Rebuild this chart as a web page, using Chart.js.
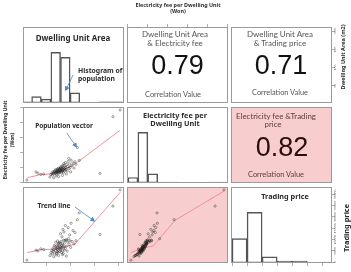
<!DOCTYPE html>
<html>
<head>
<meta charset="utf-8">
<script src="https://cdn.jsdelivr.net/npm/chart.js@4.4.1/dist/chart.umd.min.js"></script>
<style>
body{margin:0;background:#fff;width:351px;height:272px;overflow:hidden;position:relative}
canvas{position:absolute}
.t{position:absolute;white-space:nowrap;line-height:1;transform:translate(-50%,-50%);z-index:2}
.l{position:absolute;white-space:nowrap;line-height:1;transform:translate(0,-50%);z-index:2}
.b{font-family:"Noto Sans",sans-serif;font-weight:bold;color:#2b2b2b}
.c{font-family:Lato,sans-serif;color:#555}
.n{font-family:"Liberation Sans",sans-serif;color:#111}
.r{transform:translate(-50%,-50%) rotate(-90deg)}
</style>
</head>
<body>
<script>
// variables: dwelling unit area (m2), electricity fee (Won), trading price
const area = [204, 189, 162, 115, 119, 10, 29, 39, 33, 45,
  60, 62, 63, 64, 65, 66, 67, 68, 69, 70, 70, 71, 72, 72, 73, 73, 74, 74, 75, 75,
  76, 76, 77, 77, 78, 78, 79, 79, 80, 80, 81, 81, 82, 82, 83, 83, 84, 84, 85, 85,
  86, 86, 87, 87, 88, 88, 89, 90, 90, 91, 92, 93, 94, 95, 96, 98, 99, 100, 102, 104,
  106, 108, 110, 112, 66, 58, 71, 76, 84, 92, 97, 101];
const fee = [4850000, 4400000, 600000, 2330000, 1470000, 150000, 690000, 530000, 600000, 550000,
  520000, 610000, 480000, 700000, 560000, 650000, 720000, 590000, 780000, 640000, 860000, 700000, 540000, 760000, 820000, 660000, 900000, 720000, 600000, 800000,
  950000, 690000, 740000, 880000, 630000, 810000, 920000, 700000, 850000, 1020000, 760000, 970000, 680000, 890000, 1080000, 780000, 930000, 720000, 1150000, 830000,
  980000, 650000, 870000, 1250000, 760000, 940000, 1100000, 820000, 1320000, 990000, 880000, 1180000, 760000, 1050000, 1400000, 920000, 1220000, 1000000, 1480000, 1120000,
  1300000, 950000, 1380000, 1200000, 300000, 350000, 420000, 380000, 460000, 560000, 1600000, 700000];
const price = [32000, 24800, 12250, 18800, 21800, 900, 5300, 5900, 5000, 5600,
  4200, 5100, 3600, 6200, 4800, 5500, 7400, 4100, 6900, 5300, 8800, 6100, 3900, 7200, 5800, 4600, 9400, 6600, 4400, 7700,
  8300, 5200, 6300, 8500, 4700, 7000, 8600, 5600, 6800, 12600, 5900, 9100, 4300, 7500, 11200, 6400, 8000, 5000, 14500, 7300,
  9700, 3800, 6700, 13400, 5400, 8400, 9600, 6000, 16200, 9900, 7100, 9800, 4900, 8900, 15300, 7800, 12100, 9300, 17200, 9200,
  14000, 8100, 13100, 9500, 2400, 2900, 3200, 3000, 3400, 2700, 10400, 6500];

// histograms (bin edges and counts)
const areaBins = [0, 20, 40, 60, 80, 100, 120, 140, 160, 180, 200, 220];
const areaCounts = [1, 5, 3, 40, 36, 8, null, null, 1, 1, 1];
const feeBins = [0, 500000, 1000000, 1500000, 2000000, 2500000, 3000000, 3500000, 4000000, 4500000, 5000000];
const feeCounts = [6, 55, 10, 1, 1, null, null, null, 1, 1];
const priceBins = [0, 5000, 10000, 15000, 20000, 25000, 30000, 35000];
const priceCounts = [24, 50, 6, 2, 2, null, 1];

// smoothed trend lines
const trendAreaX = [11, 37, 65, 86, 110, 204];
const trendAreaFee = [310000, 500000, 580000, 830000, 1220000, 3490000];
const trendAreaPrice = [4260, 5470, 5790, 6500, 8030, 30880];
const trendFeeX = [150000, 610000, 1280000, 2370000, 4850000];
const trendFeePrice = [4260, 5790, 7270, 18470, 31460];

// correlations
const corrValues = [0.79, 0.71, 0.82];

// axis ticks
const areaTicks = [50, 100, 150, 200];
const feeTicks = [0, 1000000, 2000000, 3000000, 4000000, 5000000];
const priceTicks = [0, 5000, 10000, 15000, 20000, 25000, 30000];

const aRange = [2, 212], fRange = [-50000, 5050000], pRange = [-350, 33250];
const colX = [23, 127, 231], rowY = [27, 107, 187], PW = 101, PH = 76, M = 20, AX = 4;
const PINK = '#f7cdcd';

Chart.defaults.font.family = 'Liberation Sans';
Chart.defaults.animation = false;

Chart.register({
  id: 'frame',
  defaults: {bg: null},
  beforeDraw(ch, args, o) {
    const a = ch.chartArea;
    if (o.bg) { ch.ctx.fillStyle = o.bg; ch.ctx.fillRect(a.left, a.top, a.width, a.height); }
  },
  afterDraw(ch) {
    const a = ch.chartArea, ctx = ch.ctx;
    ctx.save();
    ctx.strokeStyle = '#9a9a9a';
    ctx.lineWidth = 1;
    ctx.strokeRect(a.left + 0.5, a.top + 0.5, a.width - 1, a.height - 1);
    ctx.restore();
  }
});

const fmtE = v => v === 0 ? '0e+00' : (v / 1e6) + 'e+06';

function axis(position, range, ticks, fmt, rotate, pad) {
  return {
    type: 'linear', position, min: range[0], max: range[1], display: true, offset: false,
    afterBuildTicks: s => { s.ticks = ticks.map(v => ({value: v})); },
    afterFit: s => { if (s.isHorizontal()) s.height = AX; else s.width = AX; },
    grid: {display: true, offset: false, drawOnChartArea: false, drawTicks: true, tickLength: 3, color: '#777', lineWidth: 0.6},
    border: {display: false},
    ticks: {
      font: {size: 3.5}, color: '#555', padding: pad, autoSkip: false,
      minRotation: rotate ? 90 : 0, maxRotation: rotate ? 90 : 0,
      crossAlign: rotate ? 'center' : 'near', callback: fmt
    }
  };
}
function hidden(range) {
  return {type: 'linear', display: false, min: range[0], max: range[1], offset: false};
}

function panel(r, c, type, datasets, scales, bg) {
  const cv = document.createElement('canvas');
  cv.width = PW + 2 * M;
  cv.height = PH + 2 * M;
  cv.style.left = (colX[c] - M) + 'px';
  cv.style.top = (rowY[r] - M) + 'px';
  document.body.appendChild(cv);
  const padding = {left: M, right: M, top: M, bottom: M};
  Object.values(scales).forEach(s => { if (s.display) padding[s.position] -= AX; });
  return new Chart(cv, {
    type,
    data: {datasets},
    options: {
      responsive: false, devicePixelRatio: 1,
      layout: {padding},
      scales,
      plugins: {legend: {display: false}, tooltip: {enabled: false}, frame: {bg}}
    }
  });
}

function histSet(bins, counts) {
  return [{
    data: counts.map((n, i) => ({x: (bins[i] + bins[i + 1]) / 2, y: n})),
    backgroundColor: 'rgba(255,255,255,0)', borderColor: '#555', borderWidth: 0.8,
    borderSkipped: false, barThickness: 'flex', barPercentage: 1, categoryPercentage: 1
  }];
}
function pointSet(xs, ys) {
  return {
    data: xs.map((x, i) => ({x, y: ys[i]})),
    pointRadius: 1.1, pointBorderWidth: 0.5,
    borderColor: 'rgba(25,25,25,0.8)', backgroundColor: 'rgba(0,0,0,0)'
  };
}
function trendSet(xs, ys) {
  return {
    data: xs.map((x, i) => ({x, y: ys[i]})),
    showLine: true, pointRadius: 0, borderColor: '#f2909a', borderWidth: 1
  };
}
const maxOf = a => Math.max(...a.filter(v => v != null));

// row 0
panel(0, 0, 'bar', histSet(areaBins, areaCounts),
  {x: hidden(aRange), y: hidden([0, 1.5 * maxOf(areaCounts)])});
panel(0, 1, 'scatter', [],
  {x: axis('top', fRange, feeTicks, fmtE, false, 1), y: hidden([0, 1])});
panel(0, 2, 'scatter', [],
  {x: hidden(pRange), y: axis('right', aRange, areaTicks, v => String(v), true, -2)});
// row 1
panel(1, 0, 'scatter', [pointSet(area, fee), trendSet(trendAreaX, trendAreaFee)],
  {x: hidden(aRange), y: axis('left', fRange, feeTicks, fmtE, true, 0)});
panel(1, 1, 'bar', histSet(feeBins, feeCounts),
  {x: hidden(fRange), y: hidden([0, 1.5 * maxOf(feeCounts)])});
panel(1, 2, 'scatter', [], {x: hidden(pRange), y: hidden(fRange)}, PINK);
// row 2
panel(2, 0, 'scatter', [pointSet(area, price), trendSet(trendAreaX, trendAreaPrice)],
  {x: axis('bottom', aRange, areaTicks, v => String(v), false, 1), y: hidden(pRange)});
panel(2, 1, 'scatter', [pointSet(fee, price), trendSet(trendFeeX, trendFeePrice)],
  {x: hidden(fRange), y: hidden(pRange)}, PINK);
panel(2, 2, 'bar', histSet(priceBins, priceCounts),
  {x: axis('bottom', pRange, priceTicks, v => String(v), false, 1),
   y: hidden([0, 1.5 * maxOf(priceCounts)]),
   yp: axis('right', pRange, priceTicks, v => String(v), true, -4)});

// text
const texts = [
  ['t b', 178, 5.5, 5.4, 'Electricity fee per Dwelling Unit'],
  ['t b', 178, 11.5, 5.4, '(Won)'],
  ['t b r', 5, 140, 5, 'Electricity fee per Dwelling Unit'],
  ['t b r', 11.5, 140, 5, '(Won)'],
  ['t b r', 344, 57, 5.5, 'Dwelling Unit Area (m2)'],
  ['t b r', 346.5, 228, 7.4, 'Trading price'],
  ['t b', 73, 37.5, 8, 'Dwelling Unit Area'],
  ['l b', 78, 71, 6.8, 'Histogram of'],
  ['l b', 78, 79, 6.8, 'population'],
  ['t b', 175, 115.7, 7.3, 'Electricity fee per'],
  ['t b', 175, 124.3, 7.3, 'Dwelling Unit'],
  ['t b', 285, 197.3, 7.3, 'Trading price'],
  ['t b', 64, 125.7, 6.5, 'Population vector'],
  ['t b', 54, 206, 6.7, 'Trend line'],
  ['t c', 175, 34, 8, 'Dwelling Unit Area'],
  ['t c', 175, 43.3, 8, '&amp; Electricity fee'],
  ['t n', 177.5, 65, 27, corrValues[0].toFixed(2)],
  ['t c', 173, 95, 7.4, 'Correlation Value'],
  ['t c', 280, 34, 8, 'Dwelling Unit Area'],
  ['t c', 280, 43.3, 8, '&amp; Trading price'],
  ['t n', 281, 65, 27, corrValues[1].toFixed(2)],
  ['t c', 280, 93, 7.4, 'Correlation Value'],
  ['t c p', 276, 116.7, 7.9, 'Electricity fee &amp;Trading'],
  ['t c p', 273, 124.5, 7.9, 'price'],
  ['t n p2', 282, 146.7, 27, corrValues[2].toFixed(2)],
  ['t c p', 276, 175, 7.4, 'Correlation Value']
];
texts.forEach(([cls, x, y, size, txt]) => {
  const d = document.createElement('div');
  d.className = cls;
  d.style.left = x + 'px';
  d.style.top = y + 'px';
  d.style.fontSize = size + 'px';
  if (cls.includes('p2')) d.style.color = '#2a0d0d';
  else if (cls.includes(' p')) d.style.color = '#5b3d3d';
  d.innerHTML = txt;
  document.body.appendChild(d);
});
</script>
<svg width="351" height="272" style="position:absolute;left:0;top:0;z-index:3">
  <defs>
    <marker id="ah" markerWidth="5" markerHeight="5" refX="3.5" refY="2.5" orient="auto" markerUnits="userSpaceOnUse">
      <path d="M0,0 L5,2.5 L0,5z" fill="#4a86c8"/>
    </marker>
  </defs>
  <g stroke="#4a86c8" stroke-width="0.8" fill="none">
    <line x1="73" y1="75" x2="65.8" y2="90" marker-end="url(#ah)"/>
    <line x1="66.7" y1="133" x2="76.2" y2="146.5" marker-end="url(#ah)"/>
    <line x1="75" y1="207" x2="94" y2="220.8" marker-end="url(#ah)"/>
  </g>
</svg>
</body>
</html>
